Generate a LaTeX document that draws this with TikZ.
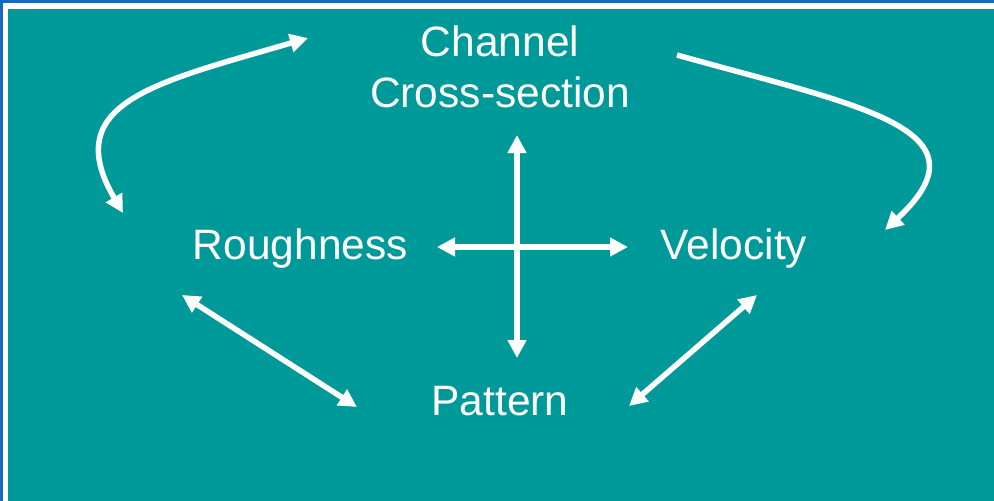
\documentclass[tikz,border=0pt]{standalone}
\usepackage{fontspec}
\setmainfont{Liberation Sans}
\usetikzlibrary{arrows.meta}
\definecolor{teal}{RGB}{0,153,153}
\definecolor{frameblue}{RGB}{25,105,195}
\tikzset{
  lbl/.style={text=white, inner sep=0pt, font=\fontsize{42.5}{51}\selectfont},
  conn/.style={draw=white, line width=5.5pt, {Triangle[length=18pt,width=18pt]}-{Triangle[length=18pt,width=18pt]}},
  conn1/.style={draw=white, line width=5.5pt, -{Triangle[length=18pt,width=18pt]}}
}
\begin{document}
\begin{tikzpicture}[x=1pt,y=-1pt]
\useasboundingbox (0,0) rectangle (994,501);
\fill[teal] (0,0) rectangle (1004,511);
\fill[white] (0,0) rectangle (1004,9);
\fill[white] (0,0) rectangle (7.5,511);
\fill[frameblue] (0,0) rectangle (1004,3);
\fill[frameblue] (0,0) rectangle (2.5,511);
% labels
\node[lbl, align=center] (chan) at (500,66.5) {Channel\\Cross-section};
\node[lbl, anchor=base] (rough) at (300.5,259.5) {Roughness};
\node[lbl, anchor=base] (vel) at (734,259.5) {Velocity};
\node[lbl, anchor=base] (pat) at (500,415) {Pattern};
% endpoints
\coordinate (vt) at (517,135);
\coordinate (vb) at (517,358);
\coordinate (hl) at (437,247);
\coordinate (hr) at (628,247);
\coordinate (dl1) at (182,295);
\coordinate (dl2) at (357,407);
\coordinate (dr1) at (629,406);
\coordinate (dr2) at (757,295);
\coordinate (tl1) at (308,38);
\coordinate (tl2) at (123,213);
\coordinate (tr1) at (677,55);
\coordinate (tr2) at (885,230);
% connectors
\draw[conn] (vt) -- (vb);
\draw[conn] (hl) -- (hr);
\draw[conn] (dl1) -- (dl2);
\draw[conn] (dr1) -- (dr2);
\draw[conn] (tl1) .. controls (158,82) and (58,102) .. (tl2);
\draw[conn1] (tr1) .. controls (855,105) and (995,128) .. (tr2);
\end{tikzpicture}
\end{document}
